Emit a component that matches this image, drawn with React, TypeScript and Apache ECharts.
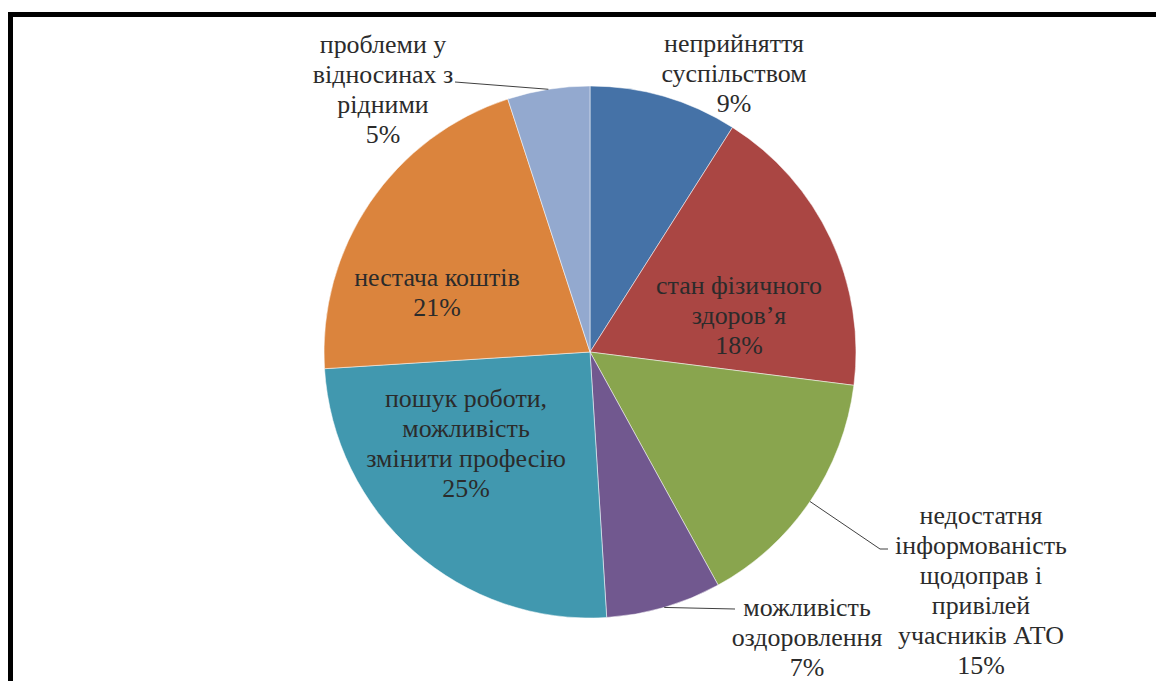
import React, { useEffect, useRef } from "react";
import * as echarts from "echarts";

const categories = [
  "неприйняття\nсуспільством",
  "стан фізичного\nздоров’я",
  "недостатня\nінформованість\nщодоправ і\nпривілей\nучасників АТО",
  "можливість\nоздоровлення",
  "пошук роботи,\nможливість\nзмінити професію",
  "нестача коштів",
  "проблеми у\nвідносинах з\nрідними",
];
const values = [9, 18, 15, 7, 25, 21, 5];
const sliceColors = ["#4572A7", "#AA4643", "#89A54E", "#71588F", "#4198AF", "#DB843D", "#93A9CF"];

// layout constants
const PIE_CX = 590;
const PIE_CY = 352;
const PIE_R = 266;
const LINE_H = 30;
const SERIF = "Liberation Serif";
const FONT_PX = 24;
const FONT_SCALE = 1.08;
const labelAnchors: number[][] = [
  [734, 73],
  [739, 315],
  [981, 590],
  [807, 637],
  [466, 443],
  [437, 292],
  [383, 89],
];
// leader-line bends/ends near each outside label (null = no leader)
const leaderEnds: (number[][] | null)[] = [
  null,
  null,
  [[880, 549], [888, 549]],
  [[735, 609]],
  null,
  null,
  [[455, 82]],
];

function buildLabelGraphics() {
  const total = values.reduce((a, b) => a + b, 0);
  const els: any[] = [];
  let cum = 0;
  values.forEach((v, i) => {
    const pct = Math.round((v / total) * 100);
    const lines = categories[i].split("\n").concat([`${pct}%`]);
    const [ax, ay] = labelAnchors[i];
    const y0 = ay - ((lines.length - 1) * LINE_H) / 2;
    lines.forEach((t, k) => {
      els.push({
        type: "text",
        z: 10,
        x: ax,
        y: y0 + k * LINE_H,
        scaleX: FONT_SCALE,
        scaleY: FONT_SCALE,
        style: {
          text: t,
          fontFamily: SERIF,
          fontSize: FONT_PX,
          fill: "#2b2b2b",
          align: "center",
          verticalAlign: "middle",
        },
      });
    });
    const ends = leaderEnds[i];
    if (ends) {
      const theta = ((cum + v / 2) / total) * Math.PI * 2;
      const start = [PIE_CX + PIE_R * Math.sin(theta), PIE_CY - PIE_R * Math.cos(theta)];
      els.push({
        type: "polyline",
        z: 9,
        shape: { points: [start, ...ends] },
        style: { stroke: "#404040", lineWidth: 1, fill: null },
      });
    }
    cum += v;
  });
  return els;
}

export default function App() {
  const ref = useRef<HTMLDivElement>(null);
  useEffect(() => {
    if (!ref.current) return;
    const chart = echarts.init(ref.current, null, { renderer: "svg" });
    chart.setOption({
      animation: false,
      backgroundColor: "#ffffff",
      graphic: [
        { type: "rect", z: 10, shape: { x: 8, y: 12, width: 1148, height: 5 }, style: { fill: "#000" } },
        { type: "rect", z: 10, shape: { x: 8, y: 12, width: 5, height: 669 }, style: { fill: "#000" } },
        ...buildLabelGraphics(),
      ],
      series: [
        {
          type: "pie",
          center: [PIE_CX, PIE_CY],
          radius: PIE_R,
          startAngle: 90,
          clockwise: true,
          avoidLabelOverlap: false,
          itemStyle: { borderColor: "rgba(255,255,255,0.5)", borderWidth: 1 },
          label: { show: false },
          labelLine: { show: false },
          data: categories.map((name, i) => ({
            name,
            value: values[i],
            itemStyle: { color: sliceColors[i] },
          })),
        },
      ],
    });
    return () => chart.dispose();
  }, []);
  return (
    <div
      ref={ref}
      style={{ position: "absolute", left: 0, top: 0, width: 1156, height: 681 }}
    />
  );
}
